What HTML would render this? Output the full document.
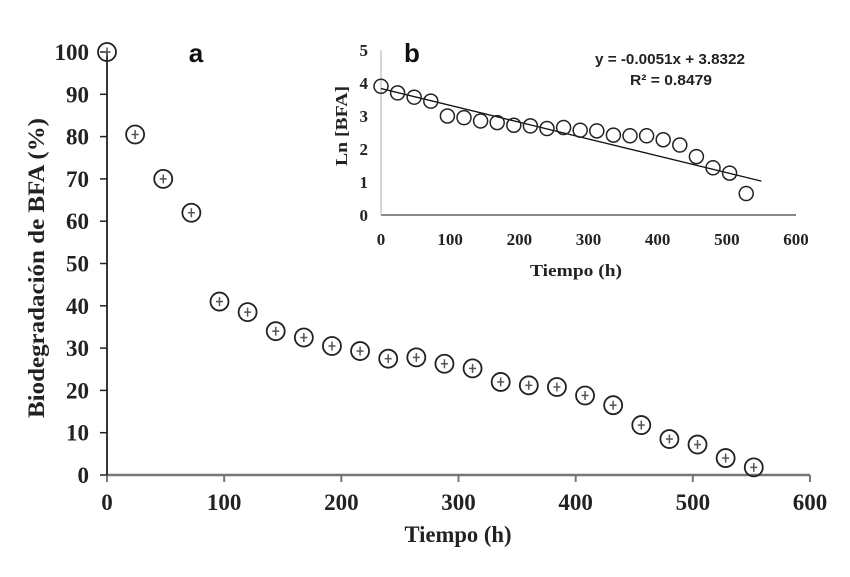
<!DOCTYPE html>
<html><head><meta charset="utf-8"><style>
html,body{margin:0;padding:0;background:#fff;}
svg{display:block;}
.t{font-family:"Liberation Serif",serif;font-weight:bold;fill:#222;}
.s{font-family:"Liberation Sans",sans-serif;font-weight:bold;}
</style></head><body>
<svg id="c" width="850" height="577" viewBox="0 0 850 577"></svg>
<script>
const mainTimes=[0,24,48,72,96,120,144,168,192,216,240,264,288,312,336,360,384,408,432,456,480,504,528,552];
const mainValues=[100,80.5,70,62,41,38.5,34,32.5,30.5,29.3,27.5,27.8,26.3,25.2,22,21.2,20.8,18.8,16.5,11.8,8.5,7.2,4,1.8];
const mainXTicks=[0,100,200,300,400,500,600];
const mainYTicks=[0,10,20,30,40,50,60,70,80,90,100];
const insetTimes=[0,24,48,72,96,120,144,168,192,216,240,264,288,312,336,360,384,408,432,456,480,504,528];
const insetValues=[3.9,3.7,3.57,3.45,3.0,2.95,2.85,2.8,2.72,2.7,2.62,2.65,2.57,2.55,2.42,2.4,2.4,2.28,2.12,1.77,1.43,1.27,0.65];
const insetXTicks=[0,100,200,300,400,500,600];
const insetYTicks=[0,1,2,3,4,5];
const trendSlope=-0.0051, trendIntercept=3.8322, trendRange=[0,550];

const NS="http://www.w3.org/2000/svg";
const svg=document.getElementById('c');
function mk(tag,attrs,parent){const e=document.createElementNS(NS,tag);for(const k in attrs)e.setAttribute(k,attrs[k]);(parent||svg).appendChild(e);return e;}

const mx=v=>107+v*(810-107)/600, my=v=>475-v*(475-52)/100;
let e;
e=mk('line',{x1:mx(0),y1:my(0),x2:mx(600),y2:my(0),stroke:'#777','stroke-width':2.5});

e=mk('line',{x1:mx(0),y1:my(0),x2:mx(0),y2:my(100),stroke:'#222','stroke-width':1.8});

mainXTicks.forEach(v=>{
  mk('line',{x1:mx(v),y1:my(0),x2:mx(v),y2:my(0)+7,stroke:'#777','stroke-width':2});
  e=mk('text',{x:mx(v),y:my(0)+35,'text-anchor':'middle','font-size':23,class:'t'});e.textContent=v;
  
});
mainYTicks.forEach(v=>{
  mk('line',{x1:mx(0)-7,y1:my(v),x2:mx(0),y2:my(v),stroke:'#222','stroke-width':1.5});
  e=mk('text',{x:mx(0)-18,y:my(v)+8,'text-anchor':'end','font-size':23,class:'t'});e.textContent=v;
  
});
e=mk('text',{x:458,y:542,'text-anchor':'middle','font-size':23,class:'t',textLength:107,lengthAdjust:'spacingAndGlyphs'});e.textContent='Tiempo (h)';

e=mk('text',{x:0,y:0,'text-anchor':'middle','font-size':23,class:'t',transform:'translate(44,268) rotate(-90)',textLength:300,lengthAdjust:'spacingAndGlyphs'});e.textContent='Biodegradación de BFA (%)';

e=mk('text',{x:196,y:62,'text-anchor':'middle','font-size':26,class:'s',fill:'#111'});e.textContent='a';

mainTimes.forEach((t,i)=>{
  const g=mk('g',{});
  
  const cx=mx(t),cy=my(mainValues[i]);
  mk('circle',{cx,cy,r:9,fill:'none',stroke:'#222','stroke-width':1.8},g);
  mk('line',{x1:cx,y1:cy-4.5,x2:cx,y2:cy+4.5,stroke:'#555','stroke-width':1.5},g);
  mk('line',{x1:cx-3.5,y1:cy,x2:cx+3.5,y2:cy,stroke:'#555','stroke-width':1.5},g);
});

const ix=v=>381+v*(796-381)/600, iy=v=>215-v*(215-50)/5;
e=mk('line',{x1:ix(0),y1:iy(0),x2:ix(600),y2:iy(0),stroke:'#888','stroke-width':2});

e=mk('line',{x1:ix(0),y1:iy(0),x2:ix(0),y2:iy(5),stroke:'#bbb','stroke-width':1.2});

insetXTicks.forEach(v=>{
  e=mk('text',{x:ix(v),y:iy(0)+30,'text-anchor':'middle','font-size':17,class:'t'});e.textContent=v;
  
});
insetYTicks.forEach(v=>{
  e=mk('text',{x:ix(0)-13,y:iy(v)+6,'text-anchor':'end','font-size':17,class:'t'});e.textContent=v;
  
});
e=mk('text',{x:576,y:276,'text-anchor':'middle','font-size':17,class:'t',textLength:92,lengthAdjust:'spacingAndGlyphs'});e.textContent='Tiempo (h)';

e=mk('text',{x:0,y:0,'text-anchor':'middle','font-size':17,class:'t',transform:'translate(347,126) rotate(-90)',textLength:80,lengthAdjust:'spacingAndGlyphs'});e.textContent='Ln [BFA]';

e=mk('text',{x:412,y:62,'text-anchor':'middle','font-size':26,class:'s',fill:'#111'});e.textContent='b';

e=mk('line',{x1:ix(trendRange[0]),y1:iy(trendIntercept+trendSlope*trendRange[0]),x2:ix(trendRange[1]),y2:iy(trendIntercept+trendSlope*trendRange[1]),stroke:'#111','stroke-width':1.3});

insetTimes.forEach((t,i)=>{
  e=mk('circle',{cx:ix(t),cy:iy(insetValues[i]),r:7,fill:'none',stroke:'#222','stroke-width':1.5});
  
});
e=mk('text',{x:670,y:64,'text-anchor':'middle','font-size':15,class:'s',fill:'#222',textLength:150,lengthAdjust:'spacingAndGlyphs'});e.textContent='y = -0.0051x + 3.8322';

e=mk('text',{x:671,y:85,'text-anchor':'middle','font-size':15,class:'s',fill:'#222',textLength:82,lengthAdjust:'spacingAndGlyphs'});e.textContent='R² = 0.8479';

</script>
</body></html>
